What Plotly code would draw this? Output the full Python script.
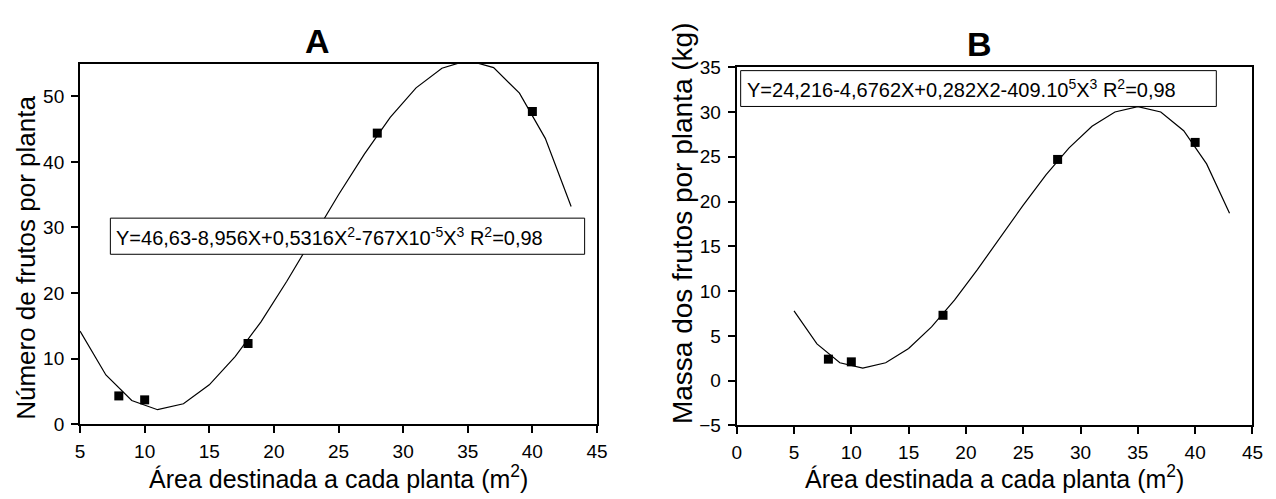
import plotly.graph_objects as go

# ---- data ----
obs_x = [8, 10, 18, 28, 40]
obs_a = [4.3, 3.7, 12.3, 44.4, 47.7]
obs_b = [2.4, 2.1, 7.3, 24.7, 26.6]

fit_x = [5, 7, 9, 11, 13, 15, 17, 19, 21, 23, 25, 27, 29, 31, 33, 35, 37, 39, 41, 43]
fit_a = [14.2, 7.5, 3.6, 2.2, 3.1, 6.0, 10.3, 15.6, 21.8, 28.4, 35.0, 41.2, 46.8,
         51.3, 54.3, 55.5, 54.4, 50.5, 43.6, 33.2]
fit_b = [7.8, 4.1, 2.0, 1.4, 2.0, 3.6, 6.0, 9.0, 12.4, 16.0, 19.6, 23.0, 26.0,
         28.4, 30.0, 30.6, 30.0, 27.9, 24.2, 18.7]

eq_a = "Y=46,63-8,956X+0,5316X<sup>2</sup>-767X10<sup>-5</sup>X<sup>3</sup> R<sup>2</sup>=0,98"
eq_b = "Y=24,216-4,6762X+0,282X2-409.10<sup>5</sup>X<sup>3</sup> R<sup>2</sup>=0,98"
x_title = "Área destinada a cada planta (m<sup>2</sup>)"
y_title_a = "Número de frutos por planta"
y_title_b = "Massa dos frutos por planta (kg)"

FONT = "Arial, 'Liberation Sans', sans-serif"
W, H = 1276, 499

def px(x):
    return x / W

def py(y):
    return 1 - y / H

fig = go.Figure()
for xa, ya, fy, oy in [("x", "y", fit_a, obs_a), ("x2", "y2", fit_b, obs_b)]:
    fig.add_trace(go.Scatter(x=fit_x, y=fy, mode="lines", xaxis=xa, yaxis=ya,
                             line=dict(color="black", width=1.2), showlegend=False))
    fig.add_trace(go.Scatter(x=obs_x, y=oy, mode="markers", xaxis=xa, yaxis=ya,
                             marker=dict(symbol="square", size=9, color="black"),
                             showlegend=False, cliponaxis=False))

axis_common = dict(showgrid=False, zeroline=False, showline=True, linecolor="black",
                   linewidth=2, mirror=True, ticks="outside", ticklen=7, tickwidth=1.5,
                   tickcolor="black", tickfont=dict(family=FONT, size=19, color="black"))

fig.update_layout(
    width=W, height=H, margin=dict(l=0, r=0, t=0, b=0),
    paper_bgcolor="white", plot_bgcolor="white",
    xaxis=dict(domain=[px(76), px(599.5)], range=[5, 45], dtick=5, anchor="y",
               ticklabelstandoff=2, **axis_common),
    yaxis=dict(domain=[py(432.3), py(56)], range=[0, 55], dtick=10, anchor="x",
               ticklabelstandoff=3, **axis_common),
    xaxis2=dict(domain=[px(741), px(1263.3)], range=[0, 45], dtick=5, anchor="y2",
                ticklabelstandoff=2, **axis_common),
    yaxis2=dict(domain=[py(433.7), py(59.7)], range=[-5, 35], dtick=5, anchor="x2",
                ticklabelstandoff=3, **axis_common),
)

shapes = []
for (x0, x1, y0, y1) in [(106.7, 587, 217.3, 255), (745, 1226.7, 63.3, 100.7)]:
    shapes.append(dict(type="rect", xref="paper", yref="paper", x0=px(x0), x1=px(x1),
                       y0=py(y1), y1=py(y0), line=dict(color="black", width=1),
                       fillcolor="white", layer="above"))
fig.update_layout(shapes=shapes)

ann = []
ann.append(dict(text=eq_a, x=px(110), y=py(236), xref="paper", yref="paper",
                xanchor="left", yanchor="middle", showarrow=False,
                font=dict(family=FONT, size=20, color="black")))
ann.append(dict(text=eq_b, x=px(749), y=py(82), xref="paper", yref="paper",
                xanchor="left", yanchor="middle", showarrow=False,
                font=dict(family=FONT, size=20, color="black")))
ann.append(dict(text="<b>A</b>", x=px(316), y=py(32), xref="paper", yref="paper",
                xanchor="center", yanchor="middle", showarrow=False,
                font=dict(family=FONT, size=34, color="black")))
ann.append(dict(text="<b>B</b>", x=px(987), y=py(36), xref="paper", yref="paper",
                xanchor="center", yanchor="middle", showarrow=False,
                font=dict(family=FONT, size=34, color="black")))
for xc in [337.7, 1002]:
    ann.append(dict(text=x_title, x=px(xc), y=py(488), xref="paper", yref="paper",
                    xanchor="center", yanchor="middle", showarrow=False,
                    font=dict(family=FONT, size=25, color="black")))
ann.append(dict(text=y_title_a, x=px(21), y=py(259), xref="paper", yref="paper",
                xanchor="center", yanchor="middle", showarrow=False, textangle=-90,
                font=dict(family=FONT, size=26, color="black")))
ann.append(dict(text=y_title_b, x=px(686), y=py(222), xref="paper", yref="paper",
                xanchor="center", yanchor="middle", showarrow=False, textangle=-90,
                font=dict(family=FONT, size=28, color="black")))
fig.update_layout(annotations=ann)

fig.write_html("out.html", config={"displayModeBar": False},
               post_script="document.body.style.margin='0';document.body.style.overflow='hidden';")
